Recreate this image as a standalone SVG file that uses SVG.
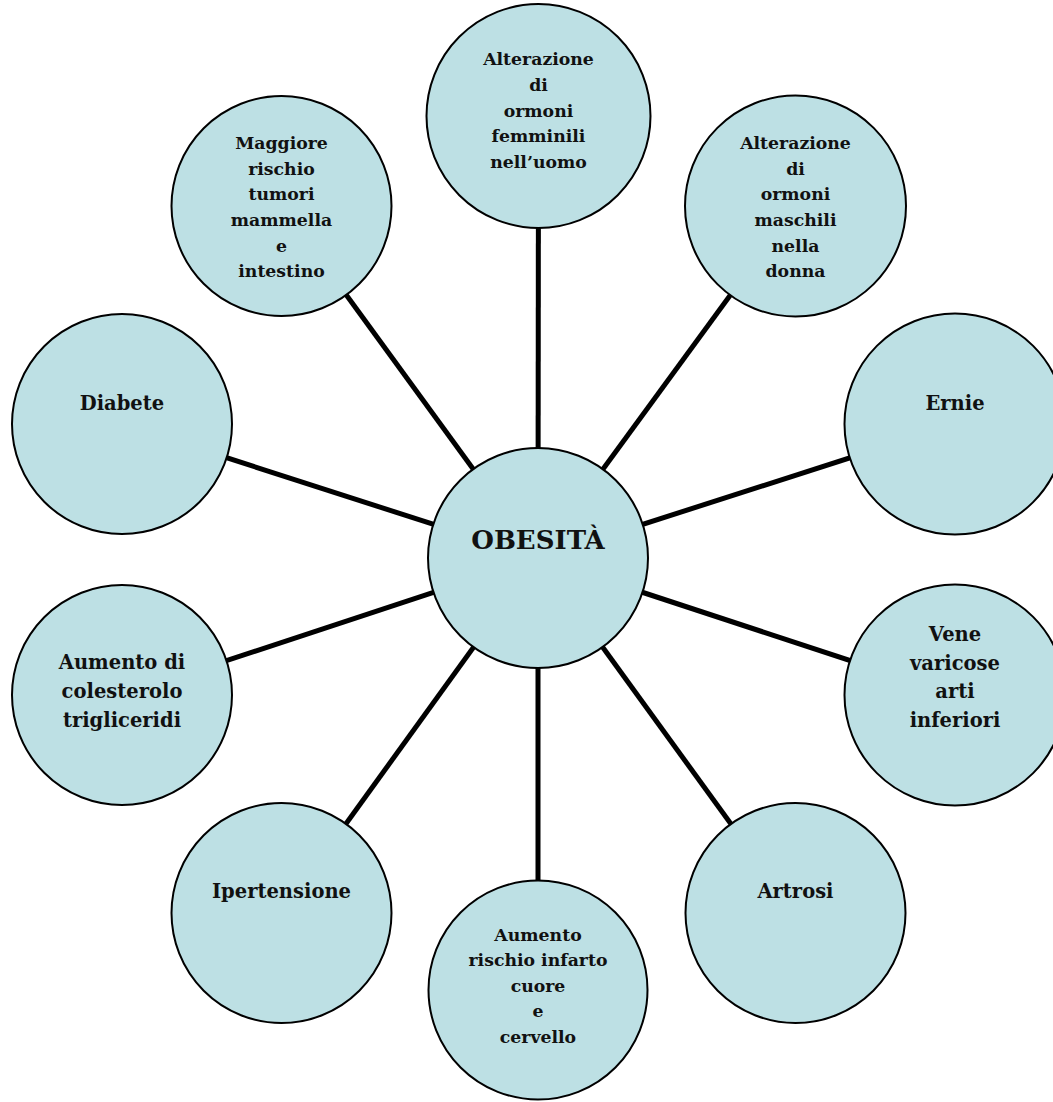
<svg xmlns="http://www.w3.org/2000/svg" width="1053" height="1102" viewBox="0 0 1053 1102">
<style>
.n{fill:#BDE0E4;stroke:#000;stroke-width:2}
.c{stroke:#000;stroke-width:5;fill:none}
text{font-family:"DejaVu Serif","Liberation Serif",serif;font-weight:bold;fill:#111;text-anchor:middle}
.s{font-size:17.3px}
.m{font-size:19.5px}
.l{font-size:26px}
</style>
<rect width="1053" height="1102" fill="#fff"/>
<g id="connectors">
<line class="c" x1="538" y1="558" x2="538.5" y2="117"/>
<line class="c" x1="538" y1="558" x2="795.5" y2="206"/>
<line class="c" x1="538" y1="558" x2="955" y2="424"/>
<line class="c" x1="538" y1="558" x2="955" y2="695"/>
<line class="c" x1="538" y1="558" x2="795.5" y2="913"/>
<line class="c" x1="538" y1="558" x2="538" y2="990"/>
<line class="c" x1="538" y1="558" x2="281.5" y2="913"/>
<line class="c" x1="538" y1="558" x2="122" y2="695"/>
<line class="c" x1="538" y1="558" x2="122" y2="424"/>
<line class="c" x1="538" y1="558" x2="281.5" y2="206"/>
</g>
<g id="center">
<circle class="n" cx="538" cy="558" r="110"/>
<text class="l" x="538" y="549">OBESITÀ</text>
</g>
<g id="femminili">
<circle class="n" cx="538.5" cy="116" r="112"/>
<text class="s" x="538.5" y="65">Alterazione</text>
<text class="s" x="538.5" y="91">di</text>
<text class="s" x="538.5" y="117">ormoni</text>
<text class="s" x="538.5" y="142">femminili</text>
<text class="s" x="538.5" y="168">nell’uomo</text>
</g>
<g id="maschili">
<circle class="n" cx="795.5" cy="206" r="110.5"/>
<text class="s" x="795.5" y="149">Alterazione</text>
<text class="s" x="795.5" y="175">di</text>
<text class="s" x="795.5" y="200">ormoni</text>
<text class="s" x="795.5" y="226">maschili</text>
<text class="s" x="795.5" y="252">nella</text>
<text class="s" x="795.5" y="277">donna</text>
</g>
<g id="ernie">
<circle class="n" cx="955" cy="424" r="110.5"/>
<text class="m" x="955" y="410">Ernie</text>
</g>
<g id="vene">
<circle class="n" cx="955" cy="695" r="110.5"/>
<text class="m" x="955" y="641">Vene</text>
<text class="m" x="955" y="670">varicose</text>
<text class="m" x="955" y="698">arti</text>
<text class="m" x="955" y="727">inferiori</text>
</g>
<g id="artrosi">
<circle class="n" cx="795.5" cy="913" r="110"/>
<text class="m" x="795.5" y="898">Artrosi</text>
</g>
<g id="infarto">
<circle class="n" cx="538" cy="990" r="109.5"/>
<text class="s" x="538" y="941">Aumento</text>
<text class="s" x="538" y="966">rischio infarto</text>
<text class="s" x="538" y="992">cuore</text>
<text class="s" x="538" y="1017">e</text>
<text class="s" x="538" y="1043">cervello</text>
</g>
<g id="ipertensione">
<circle class="n" cx="281.5" cy="913" r="110"/>
<text class="m" x="281.5" y="898">Ipertensione</text>
</g>
<g id="colesterolo">
<circle class="n" cx="122" cy="695" r="110"/>
<text class="m" x="122" y="669">Aumento di</text>
<text class="m" x="122" y="698">colesterolo</text>
<text class="m" x="122" y="727">trigliceridi</text>
</g>
<g id="diabete">
<circle class="n" cx="122" cy="424" r="110"/>
<text class="m" x="122" y="410">Diabete</text>
</g>
<g id="tumori">
<circle class="n" cx="281.5" cy="206" r="110"/>
<text class="s" x="281.5" y="149">Maggiore</text>
<text class="s" x="281.5" y="175">rischio</text>
<text class="s" x="281.5" y="200">tumori</text>
<text class="s" x="281.5" y="226">mammella</text>
<text class="s" x="281.5" y="252">e</text>
<text class="s" x="281.5" y="277">intestino</text>
</g>
</svg>
